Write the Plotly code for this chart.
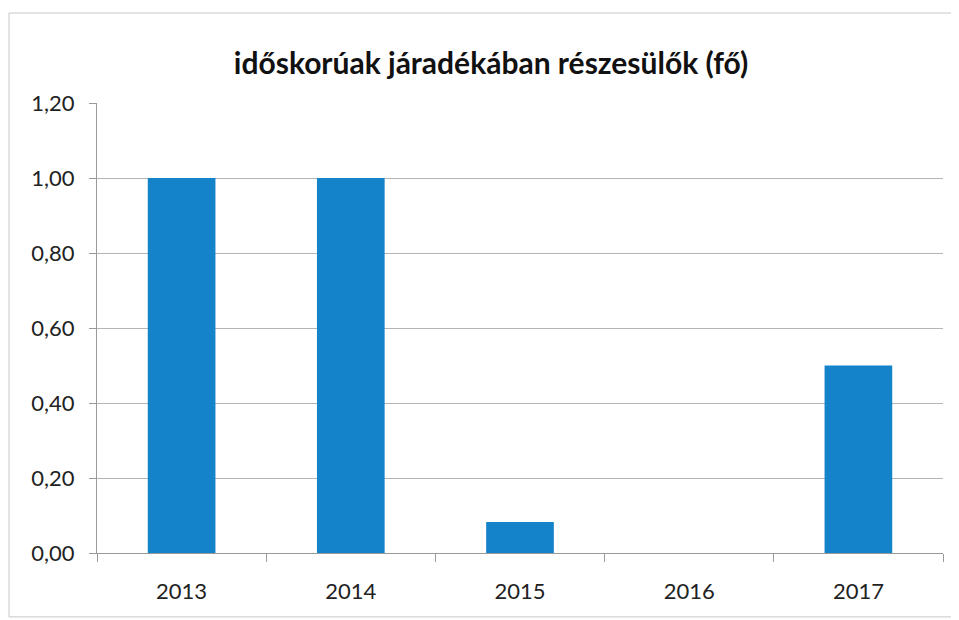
import plotly.graph_objects as go

years = ["2013", "2014", "2015", "2016", "2017"]
values = [1.00, 1.00, 0.083, 0.0, 0.50]
y_ticks = [0, 0.2, 0.4, 0.6, 0.8, 1.0, 1.2]
title_text = "időskorúak járadékában részesülők (fő)"

W, H = 951, 612

fig = go.Figure(go.Bar(x=years, y=values, marker=dict(color="#1583ca", line=dict(width=0))))

fig.update_layout(
    width=W, height=H,
    margin=dict(l=89, r=16, t=95, b=67),
    paper_bgcolor="white", plot_bgcolor="white",
    separators=", ",
    bargap=0.6,
    showlegend=False,
    font=dict(family="Lato", color="#222222"),
    title=dict(text="<b>" + title_text + "</b>", x=483 / W, xref="container", xanchor="center",
               y=1 - 55 / H, yref="container", yanchor="middle",
               font=dict(size=30, family="Lato", color="#111111")),
    shapes=[dict(type="rect", xref="paper", yref="paper", x0=-0.104, x1=1.0165, y0=-0.142, y1=1.2,
                 line=dict(color="#c8c8c8", width=1), fillcolor="rgba(0,0,0,0)", layer="below")],
)
fig.update_xaxes(showgrid=False, showline=True, linecolor="#9a9a9a", linewidth=1,
                 ticks="outside", tickson="boundaries", ticklen=8, tickcolor="#9a9a9a",
                 tickfont=dict(size=22, color="#222222"), ticklabelstandoff=19)
fig.update_yaxes(range=[0, 1.2], tickvals=y_ticks, tickformat=".2f",
                 showgrid=True, gridcolor="#b4b4b4", gridwidth=1,
                 showline=True, linecolor="#9a9a9a", linewidth=1,
                 ticks="outside", ticklen=7, tickcolor="#9a9a9a",
                 tickfont=dict(size=22, color="#222222"), zeroline=False, ticklabelstandoff=10)

fig.write_html("out.html")
